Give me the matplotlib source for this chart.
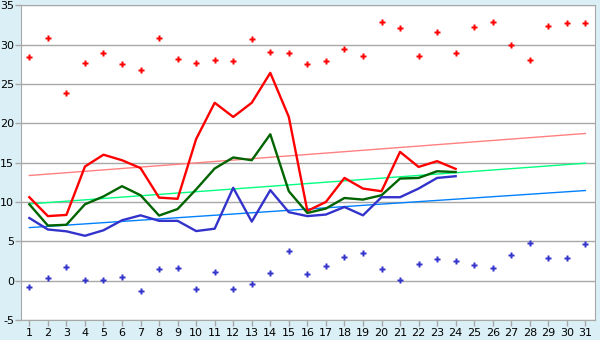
import numpy as np
import matplotlib
matplotlib.use("Agg")
import matplotlib.pyplot as plt

days = np.arange(1, 32)
obs_days = np.arange(1, 25)

# daily observed temperatures (first 24 days)
t_max = [10.6, 8.2, 8.35, 14.5, 16.0, 15.3, 14.3, 10.55, 10.4, 18.0, 22.6, 20.8,
         22.6, 26.4, 20.8, 8.86, 10.0, 13.05, 11.7, 11.36, 16.36, 14.45, 15.18, 14.2]
t_mean = [9.7, 7.0, 7.1, 9.7, 10.7, 12.0, 10.85, 8.27, 9.1, 11.6, 14.25, 15.65,
          15.3, 18.6, 11.36, 8.6, 9.16, 10.5, 10.3, 10.85, 12.97, 13.05, 13.9, 13.8]
t_min = [7.96, 6.5, 6.27, 5.7, 6.4, 7.67, 8.3, 7.6, 7.6, 6.3, 6.6, 11.8,
         7.5, 11.5, 8.7, 8.2, 8.4, 9.36, 8.3, 10.6, 10.6, 11.7, 13.05, 13.27]

# record highs / lows per day
rec_max = [28.37, 30.8, 23.8, 27.6, 28.9, 27.5, 26.8, 30.8, 28.2, 27.6, 28.0, 27.9,
           30.7, 29.0, 28.9, 27.5, 27.9, 29.4, 28.6, 32.8, 32.1, 28.5, 31.6, 28.9,
           32.2, 32.8, 29.9, 28.0, 32.3, 32.7, 32.7]
rec_min = [-0.76, 0.38, 1.78, 0.13, 0.13, 0.51, -1.27, 1.53, 1.65, -1.1, 1.14, -1.02,
           -0.38, 1.02, 3.82, 0.89, 1.91, 3.05, 3.56, 1.53, 0.13, 2.16, 2.8, 2.54,
           2.04, 1.65, 3.31, 4.83, 2.93, 2.93, 4.7]

# climatological normals at the start and end of the month
norm_days = [1, 31]
norm_max = [13.36, 18.7]
norm_mean = [9.75, 14.92]
norm_min = [6.74, 11.45]

plt.rcParams["axes.unicode_minus"] = False

bg = "#DAF0F6"
fig = plt.figure(figsize=(6, 3.4), dpi=100, facecolor=bg)
ax = fig.add_axes([0.035, 0.0588, 0.9567, 0.926])
ax.set_facecolor("white")

ax.plot(norm_days, norm_max, color="#FF8080", lw=1)
ax.plot(norm_days, norm_mean, color="#00FF80", lw=1)
ax.plot(norm_days, norm_min, color="#0080FF", lw=1)

ax.plot(obs_days, t_max, color="#FF0000", lw=1.7)
ax.plot(obs_days, t_mean, color="#006400", lw=1.7)
ax.plot(obs_days, t_min, color="#3333CC", lw=1.7)

ax.plot(days, rec_max, ls="none", marker="P", ms=5, color="#FF0000", mec="none")
ax.plot(days, rec_min, ls="none", marker="P", ms=5, color="#3333CC", mec="none")

ax.set_xlim(0.55, 31.52)
ax.set_ylim(-5, 35)
ax.set_xticks(days)
ax.set_yticks(np.arange(-5, 36, 5))
ax.yaxis.grid(True, color="#A8A8A8", lw=1)
ax.set_axisbelow(True)
for s in ax.spines.values():
    s.set_color("#A8A8A8")
ax.tick_params(axis="both", colors="#A8A8A8", labelcolor="black", labelsize=8,
               length=4, width=1)
ax.tick_params(axis="y", pad=1)
ax.tick_params(axis="x", pad=2)

fig.savefig("out.png", dpi=100, facecolor=bg)
